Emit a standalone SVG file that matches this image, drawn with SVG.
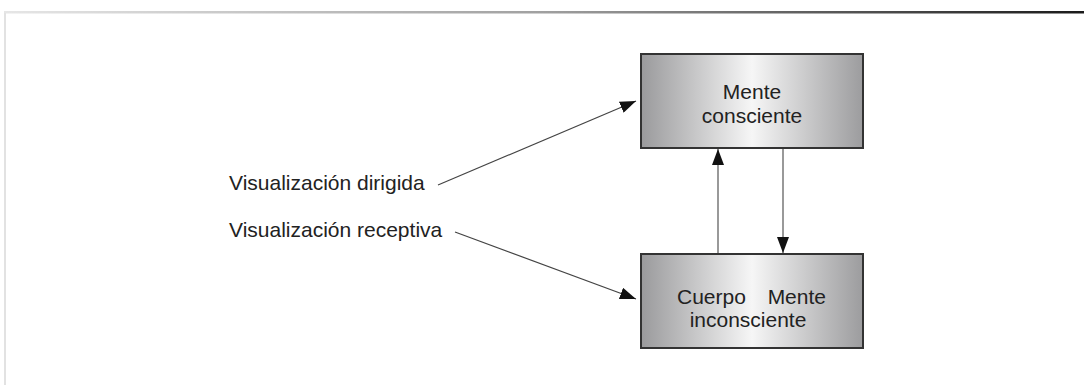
<svg xmlns="http://www.w3.org/2000/svg" width="1084" height="385" viewBox="0 0 1084 385">
<defs>
<linearGradient id="topline" x1="0" y1="0" x2="1" y2="0">
<stop offset="0" stop-color="#e6e6e6"/>
<stop offset="0.5" stop-color="#a0a0a0"/>
<stop offset="1" stop-color="#1a1a1a"/>
</linearGradient>
<linearGradient id="boxfill" x1="0" y1="0" x2="1" y2="0">
<stop offset="0" stop-color="#9a9a9c"/>
<stop offset="0.5" stop-color="#f6f6f6"/>
<stop offset="1" stop-color="#9c9c9e"/>
</linearGradient>
<marker id="ah" viewBox="0 0 16 12" refX="16" refY="6" markerWidth="16" markerHeight="12" markerUnits="userSpaceOnUse" orient="auto">
<path d="M0,0 L16,6 L0,12 Z" fill="#111"/>
</marker>
</defs>
<style>
.box{fill:url(#boxfill);stroke:#333;stroke-width:2}
.t{font-family:"Liberation Sans",Arial,sans-serif;font-size:21px;fill:#222}
.c{stroke:#444;stroke-width:1.2;fill:none;marker-end:url(#ah)}
.v{stroke:#777;stroke-width:1.5;fill:none;marker-end:url(#ah)}
</style>
<rect x="4" y="11" width="1080" height="2.5" fill="url(#topline)"/>
<rect x="4" y="13" width="2" height="372" fill="#e2e2e2"/>
<g id="mente-consciente">
<rect class="box" x="641" y="54" width="222" height="94"/>
<text class="t" x="752" y="99" text-anchor="middle">Mente</text>
<text class="t" x="752" y="123" text-anchor="middle">consciente</text>
</g>
<g id="cuerpo-mente-inconsciente">
<rect class="box" x="641" y="254" width="222" height="94"/>
<text class="t" x="677" y="304">Cuerpo</text>
<text class="t" x="826" y="304" text-anchor="end">Mente</text>
<text class="t" x="748" y="327" text-anchor="middle">inconsciente</text>
</g>
<g id="label-dirigida">
<text class="t" x="229" y="190">Visualización dirigida</text>
</g>
<g id="label-receptiva">
<text class="t" x="229" y="237">Visualización receptiva</text>
</g>
<g id="connectors">
<line class="c" x1="438" y1="185" x2="636" y2="101"/>
<line class="c" x1="455" y1="232" x2="636" y2="299"/>
<line class="v" x1="718" y1="253" x2="718" y2="149"/>
<line class="v" x1="783" y1="149" x2="783" y2="253"/>
</g>
</svg>
